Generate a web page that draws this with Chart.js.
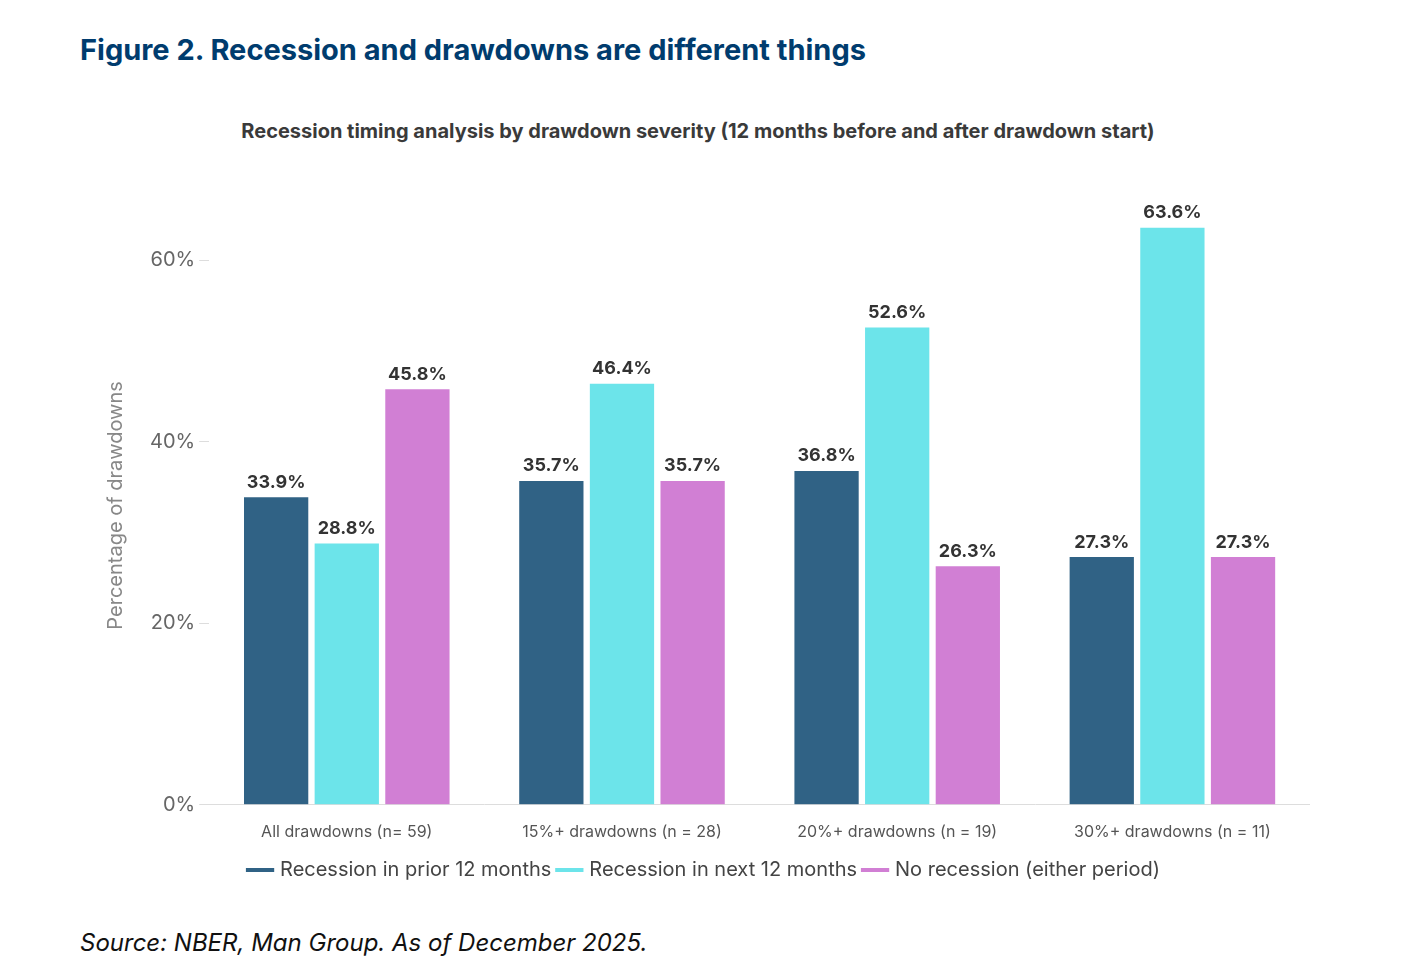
<!DOCTYPE html>
<html><head><meta charset="utf-8">
<script src="https://cdn.jsdelivr.net/npm/chart.js@4"></script>
<style>
body{margin:0;width:1401px;height:973px;background:#fff;font-family:Inter,"Open Sans",sans-serif;position:relative;overflow:hidden}
#t{position:absolute;left:80px;top:32px;font-size:29px;font-weight:700;color:#003c6e}
#s{position:absolute;left:0;width:1396px;top:119px;text-align:center;font-size:20px;font-weight:700;color:#3a3a3a}
#src{position:absolute;left:80px;top:928px;font-size:24px;font-style:italic;color:#111}
#w{position:absolute;left:100px;top:190px;width:1210px;height:700px}
</style></head><body>
<div id="t">Figure 2. Recession and drawdowns are different things</div>
<div id="s">Recession timing analysis by drawdown severity (12 months before and after drawdown start)</div>
<div id="w"><canvas id="c"></canvas></div>
<div id="src">Source: NBER, Man Group. As of December 2025.</div>
<script>
const categories=["All drawdowns (n= 59)","15%+ drawdowns (n = 28)","20%+ drawdowns (n = 19)","30%+ drawdowns (n = 11)"];
const seriesNames=["Recession in prior 12 months","Recession in next 12 months","No recession (either period)"];
const prior=[33.9,35.7,36.8,27.3];
const next=[28.8,46.4,52.6,63.6];
const none=[45.8,35.7,26.3,27.3];
const yTicks=[0,20,40,60];
const colors=["#306285","#6ce4ea","#d17fd4"];
const labelPlugin={id:"lbl",afterDatasetsDraw(ch){const c=ch.ctx;c.save();c.font="700 18px Inter";c.fillStyle="#333";c.textAlign="center";c.textBaseline="bottom";
ch.data.datasets.forEach((d,i)=>{ch.getDatasetMeta(i).data.forEach((b,j)=>{c.fillText(d.data[j].toFixed(1)+"%",b.x,b.y-6);});});c.restore();}};
new Chart(document.getElementById("c"),{type:"bar",
data:{labels:categories,datasets:[prior,next,none].map((d,i)=>({label:seriesNames[i],data:d,backgroundColor:colors[i],categoryPercentage:0.77,barPercentage:0.91}))},
options:{responsive:true,maintainAspectRatio:false,animation:false,
layout:{padding:{top:0,right:0,left:0,bottom:0}},
plugins:{tooltip:{enabled:false},legend:{position:"bottom",labels:{font:{size:20,family:"Inter"},color:"#444",usePointStyle:true,boxWidth:30,padding:8,
generateLabels:ch=>ch.data.datasets.map((d,i)=>({text:d.label,pointStyle:"line",strokeStyle:d.backgroundColor,fillStyle:d.backgroundColor,lineWidth:4,datasetIndex:i,fontColor:"#444"}))}}},
scales:{x:{grid:{display:false},border:{color:"#ddd"},ticks:{font:{size:16,family:"Inter"},color:"#555",padding:10}},
y:{min:0,max:66,afterBuildTicks:a=>{a.ticks=yTicks.map(v=>({value:v}));},
grid:{drawOnChartArea:false,drawTicks:true,tickLength:10,color:"#ddd"},border:{display:false},
ticks:{font:{size:20,family:"Inter"},color:"#666",callback:v=>v+"%",padding:4},
title:{display:true,text:"Percentage of drawdowns",font:{size:20,family:"Inter"},color:"#888",padding:{bottom:18}}}}},
plugins:[labelPlugin]});
</script></body></html>
